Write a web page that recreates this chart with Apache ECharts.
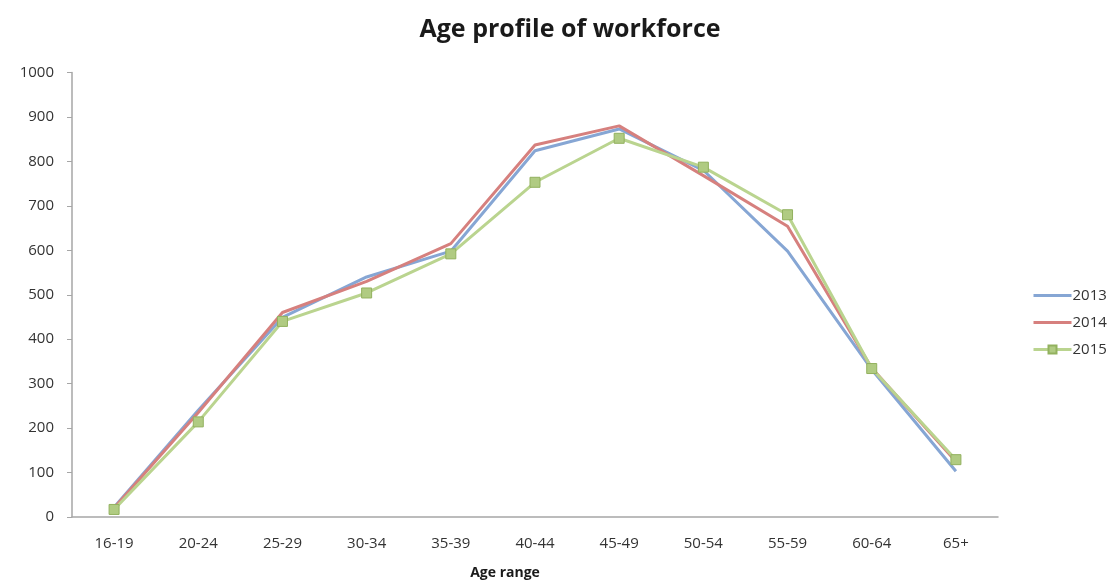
<!DOCTYPE html>
<html>
<head>
<meta charset="utf-8">
<script src="https://cdn.jsdelivr.net/npm/echarts@6/dist/echarts.min.js"></script>
<style>
  html, body { margin: 0; padding: 0; background: #fff; }
  #chart { width: 1112px; height: 585px; }
</style>
</head>
<body>
<div id="chart"></div>
<script>
// Age bands along the horizontal axis
const ageRanges = ['16-19', '20-24', '25-29', '30-34', '35-39', '40-44', '45-49', '50-54', '55-59', '60-64', '65+'];

// Headcount per age band, by year
const y2013 = [22, 240, 449, 540, 598, 824, 873, 780, 598, 332, 103];
const y2014 = [20, 235, 460, 530, 615, 837, 880, 768, 654, 335, 125];
const y2015 = [17, 214, 440, 504, 592, 753, 852, 787, 680, 334, 129];

const yearNames = ['2013', '2014', '2015'];

const fontFamily = '"Open Sans", Lato, sans-serif';
const axisGrey = '#a6a6a6';
const textColor = '#333333';

const chart = echarts.init(document.getElementById('chart'), null, { renderer: 'canvas' });

chart.setOption({
  animation: false,
  backgroundColor: '#ffffff',
  title: {
    text: 'Age profile of workforce',
    left: 565,
    textAlign: 'center',
    top: 12,
    textStyle: { fontFamily, fontSize: 25, fontWeight: 'bold', color: '#1a1a1a' }
  },
  legend: {
    orient: 'vertical',
    left: 1027,
    top: 283,
    itemWidth: 38,
    itemHeight: 10,
    itemGap: 12,
    lineStyle: { width: 3 },
    // the two plain-line years show only their stroke in the key
    data: [
      { name: yearNames[0], itemStyle: { opacity: 0 } },
      { name: yearNames[1], itemStyle: { opacity: 0 } },
      { name: yearNames[2] }
    ],
    textStyle: { fontFamily, fontSize: 15, color: textColor, padding: [0, 0, 0, -4] }
  },
  grid: { left: 72, right: 114, top: 72.5, bottom: 67.3, containLabel: false },
  xAxis: {
    type: 'category',
    data: ageRanges,
    boundaryGap: true,
    axisLine: { lineStyle: { color: axisGrey, width: 1.5 } },
    axisTick: { show: false },
    axisLabel: { fontFamily, fontSize: 15, color: textColor, margin: 19 },
    name: 'Age range',
    nameLocation: 'middle',
    nameGap: 49,
    nameTextStyle: { fontFamily, fontSize: 14, fontWeight: 'bold', color: '#1a1a1a', padding: [0, 60, 0, 0] }
  },
  yAxis: {
    type: 'value',
    min: 0,
    max: 1000,
    interval: 100,
    axisLine: { show: true, lineStyle: { color: axisGrey, width: 1.5 } },
    axisTick: { show: true, length: 5, lineStyle: { color: axisGrey } },
    axisLabel: { fontFamily, fontSize: 15, color: textColor, margin: 18, formatter: (v) => String(v) },
    splitLine: { show: false }
  },
  series: [
    {
      name: yearNames[0],
      type: 'line',
      data: y2013,
      symbol: 'none',
      lineStyle: { color: '#86a6d4', width: 3 },
      itemStyle: { color: '#86a6d4' },
      z: 2
    },
    {
      name: yearNames[1],
      type: 'line',
      data: y2014,
      symbol: 'none',
      lineStyle: { color: '#d6807e', width: 3 },
      itemStyle: { color: '#d6807e' },
      z: 3
    },
    {
      name: yearNames[2],
      type: 'line',
      data: y2015,
      symbol: 'rect',
      symbolSize: 10,
      showAllSymbol: true,
      lineStyle: { color: '#bad48f', width: 3 },
      itemStyle: { color: '#b0cb82', borderColor: '#92b15e', borderWidth: 1 },
      z: 4
    }
  ]
});
</script>
</body>
</html>
